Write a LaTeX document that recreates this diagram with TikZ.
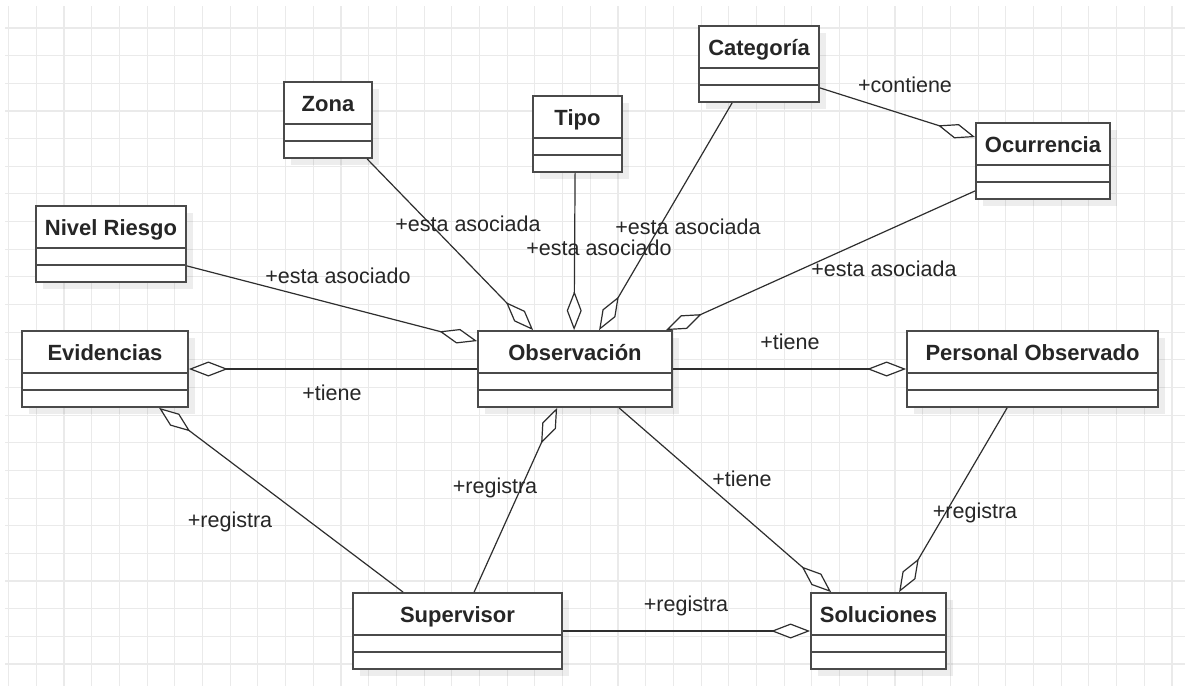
\documentclass[tikz,border=0pt]{standalone}
\usepackage{fontspec}
\setmainfont{Liberation Sans}
\usetikzlibrary{arrows.meta,shadows}
\definecolor{gridc}{HTML}{EAEAEA}
\definecolor{boxc}{HTML}{4A4A4A}
\definecolor{linec}{HTML}{2E2E2E}
\definecolor{txtc}{HTML}{262626}
\tikzset{
  umlbox/.style={draw=boxc, line width=1.8pt, fill=white, inner sep=0pt, minimum height=76pt,
    drop shadow={shadow xshift=7pt, shadow yshift=-7pt, opacity=0.07, fill=black}},
  divider/.style={draw=boxc, line width=1.8pt},
  classname/.style={font=\fontsize{22}{26}\selectfont\bfseries, text=txtc, anchor=base, inner sep=0pt},
  rolelabel/.style={font=\fontsize{21.5}{25}\selectfont, text=txtc, anchor=base, inner sep=0pt},
  assoc/.style={draw=linec, line width=1.2pt, -{Diamond[fill=white, length=39pt, width=15pt]}},
  gridline/.style={draw=gridc, line width=1.1pt},
}
\newcommand\umlclass[5]{%
  \node[umlbox, minimum width={#4-#2}] (#1) at ({(#2+#4)/2},{#3+38}) {};
  \draw[divider] ([yshift=-43pt]#1.north west) -- ([yshift=-43pt]#1.north east);
  \draw[divider] ([yshift=-60pt]#1.north west) -- ([yshift=-60pt]#1.north east);
  \node[classname] (#1-name) at ({(#2+#4)/2},{#3+29.5}) {#5};
}
\begin{document}
\begin{tikzpicture}[x=1pt,y=-1pt]
\fill[white] (0,0) rectangle (1185,686);
\useasboundingbox (0,0) rectangle (1185,686);
\foreach \i in {0,...,42} \draw[gridline] ({8.6+27.7*\i},6) -- ({8.6+27.7*\i},686);
\foreach \j in {1,...,24} \draw[gridline] (5,{0.35+27.65*\j}) -- (1185,{0.35+27.65*\j});

\umlclass{cat}{699}{26}{819}{Categoría}
\umlclass{ocu}{976}{123}{1110}{Ocurrencia}
\umlclass{zona}{284}{82}{372}{Zona}
\umlclass{tipo}{533}{96}{622}{Tipo}
\umlclass{nivel}{36}{206}{186}{Nivel Riesgo}
\umlclass{evid}{22}{331}{188}{Evidencias}
\umlclass{obs}{478}{331}{672}{Observación}
\umlclass{pers}{907}{331}{1158}{Personal Observado}
\umlclass{sup}{353}{593}{562}{Supervisor}
\umlclass{sol}{811}{593}{946}{Soluciones}

\draw[assoc] ([xshift=84pt]zona.south west) -- ([xshift=56pt]obs.north west);
\draw[assoc] ([xshift=43pt]tipo.south west) -- ([xshift=97pt]obs.north west);
\draw[assoc] ([xshift=34pt]cat.south west) -- ([xshift=122pt]obs.north west);
\draw[assoc] ([yshift=9pt]ocu.south west) -- ([xshift=189pt]obs.north west);
\draw[assoc] ([yshift=15pt]cat.south east) -- ([yshift=-15pt]ocu.north west);
\draw[assoc] ([yshift=17pt]nivel.south east) -- ([yshift=-11pt]obs.north west);
\draw[assoc] (obs.west) -- (evid.east);
\draw[assoc] (obs.east) -- (pers.west);
\draw[assoc] ([xshift=51pt]sup.north west) -- ([xshift=138pt]evid.south west);
\draw[assoc] ([xshift=122pt]sup.north west) -- ([xshift=80pt]obs.south west);
\draw[assoc] ([xshift=142pt]obs.south west) -- ([xshift=21pt]sol.north west);
\draw[assoc] ([xshift=101pt]pers.south west) -- ([xshift=89pt]sol.north west);
\draw[assoc] (sup.east) -- (sol.west);

\node[rolelabel] (l1) at (468,231) {+esta asociada};
\node[rolelabel] (l2) at (599,255) {+esta asociado};
\node[rolelabel] (l3) at (688,234) {+esta asociada};
\node[rolelabel] (l4) at (884,276) {+esta asociada};
\node[rolelabel] (l5) at (905,92) {+contiene};
\node[rolelabel] (l6) at (338,283) {+esta asociado};
\node[rolelabel] (l7) at (332,400) {+tiene};
\node[rolelabel] (l8) at (790,349) {+tiene};
\node[rolelabel] (l9) at (230,527) {+registra};
\node[rolelabel] (l10) at (495,493) {+registra};
\node[rolelabel] (l11) at (742,486) {+tiene};
\node[rolelabel] (l12) at (975,518) {+registra};
\node[rolelabel] (l13) at (686,611) {+registra};
\end{tikzpicture}
\end{document}
